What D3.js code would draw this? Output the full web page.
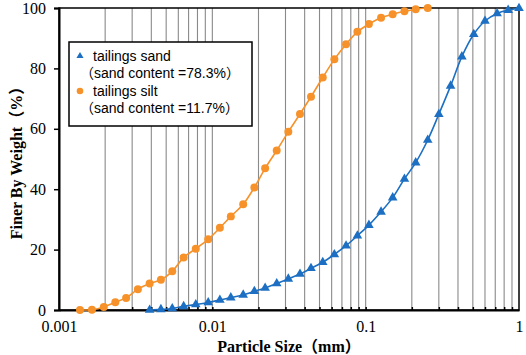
<!DOCTYPE html>
<html>
<head>
<meta charset="utf-8">
<script src="https://cdn.jsdelivr.net/npm/d3@7"></script>
<style>
  body { margin: 0; background: #fff; }
  .tick text { font-family: "Times New Roman", "Liberation Serif", serif; font-size: 16px; fill: #000; }
  .title { font-family: "Times New Roman", "Liberation Serif", "Noto Sans CJK SC", serif; font-weight: bold; font-size: 16px; }
  .legend text { font-family: Arial, "Liberation Sans", "Noto Sans CJK SC", sans-serif; font-size: 14px; }
</style>
</head>
<body>
<div id="container"></div>
<script>
/* CONSTANTS AND GLOBALS */
const width = 526;
const height = 355;
const margin = { top: 8, right: 7, bottom: 45, left: 59 };

/* DATA */
// tailings silt (orange circles)
const siltSize = [0.00137, 0.00164, 0.00196, 0.00233, 0.00274, 0.00327, 0.0039, 0.00462, 0.00548, 0.0065,
  0.0078, 0.0094, 0.0112, 0.0132, 0.0159, 0.0188, 0.0221, 0.0263, 0.0313, 0.0373,
  0.044, 0.0525, 0.0625, 0.0745, 0.0883, 0.105, 0.126, 0.15, 0.179, 0.212, 0.254];
const siltFiner = [0, 0.1, 1, 2.6, 4.0, 6.9, 8.8, 10.0, 12.8, 17.4,
  20.3, 23.4, 27.2, 31.0, 35.0, 40.6, 46.9, 52.8, 59.0, 64.9,
  70.6, 77.0, 83.0, 88.0, 92.1, 94.7, 96.8, 97.9, 98.9, 99.6, 100];

// tailings sand (blue triangles)
const sandSize = [0.0039, 0.00462, 0.00548, 0.0065, 0.0078, 0.0094, 0.0112, 0.0132, 0.0159, 0.0188,
  0.0221, 0.0263, 0.0313, 0.0373, 0.044, 0.0525, 0.0625, 0.0745, 0.0883, 0.105,
  0.126, 0.15, 0.179, 0.212, 0.254, 0.30, 0.358, 0.424, 0.507, 0.60, 0.72, 0.85, 1.0];
const sandFiner = [0, 0.2, 0.5, 1.2, 1.8, 2.5, 3.3, 4.1, 5.0, 6.2,
  7.3, 8.8, 10.3, 11.9, 13.8, 15.8, 18.4, 21.3, 24.6, 28.1,
  32.5, 37.2, 43.4, 48.8, 56.3, 64.8, 74.2, 83.9, 91.3, 95.7, 98.2, 99.3, 99.9];

const xTicks = [0.001, 0.01, 0.1, 1];
const xTickLabels = ["0.001", "0.01", "0.1", "1"];
const yTicks = [0, 20, 40, 60, 80, 100];

const legendLabels = ["tailings sand", "（sand content =78.3%）", "tailings silt", "（sand content =11.7%）"];

const blue = "#1c6fc2";
const orange = "#f7922a";

/* HTML ELEMENTS */
const svg = d3.select("#container")
  .append("svg")
  .attr("width", width)
  .attr("height", height)

/* SCALES */
const xScale = d3.scaleLog()
  .domain([0.001, 1])
  .range([margin.left, width - margin.right])

const yScale = d3.scaleLinear()
  .domain([0, 100])
  .range([height - margin.bottom, margin.top])

// vertical grid lines (2..9 of each decade plus 0.01, 0.1)
const gridVals = xScale.ticks().filter(d => d > 0.001 && d < 1)
svg.append("g")
  .selectAll("line")
  .data(gridVals)
  .join("line")
  .attr("x1", d => xScale(d))
  .attr("x2", d => xScale(d))
  .attr("y1", yScale(0))
  .attr("y2", yScale(100))
  .attr("stroke", "#8a8a8a")
  .attr("stroke-width", 1.1)

// plot frame
svg.append("rect")
  .attr("x", xScale(0.001))
  .attr("y", yScale(100))
  .attr("width", xScale(1) - xScale(0.001))
  .attr("height", yScale(0) - yScale(100))
  .attr("fill", "none")
  .attr("stroke", "#000")
  .attr("stroke-width", 1.5)

/* AXES */
// minor ticks on x axis (inside)
const xMinor = d3.axisBottom(xScale)
  .tickValues(gridVals)
  .tickSize(-3)
  .tickFormat("")
svg.append("g")
  .attr("transform", `translate(0,${yScale(0)})`)
  .call(xMinor)
  .call(g => g.select(".domain").remove())
  .call(g => g.selectAll(".tick line").attr("stroke-width", 1.5))

const xAxis = d3.axisBottom(xScale)
  .tickValues(xTicks)
  .tickSize(0)
  .tickPadding(11)
  .tickFormat((d, i) => xTickLabels[i])
svg.append("g")
  .attr("class", "axis")
  .attr("transform", `translate(0,${yScale(0)})`)
  .call(xAxis)
  .call(g => g.select(".domain").attr("stroke-width", 2))

const yAxis = d3.axisLeft(yScale)
  .tickValues(yTicks)
  .tickSize(5)
  .tickPadding(8)
svg.append("g")
  .attr("class", "axis")
  .attr("transform", `translate(${xScale(0.001)},0)`)
  .call(yAxis)
  .call(g => g.select(".domain").attr("stroke-width", 2))
  .call(g => g.selectAll(".tick line").attr("stroke-width", 1.5))

// AXIS TITLES
svg.append("text")
  .attr("class", "title")
  .attr("x", (xScale(0.001) + xScale(1)) / 2)
  .attr("y", 352)
  .attr("text-anchor", "middle")
  .text("Particle Size（mm）")

svg.append("text")
  .attr("class", "title")
  .attr("transform", `translate(22,${(yScale(0) + yScale(100)) / 2}) rotate(-90)`)
  .attr("text-anchor", "middle")
  .text("Finer By Weight（%）")

/* LINES AND MARKERS */
const line = d3.line()
  .x(d => xScale(d[0]))
  .y(d => yScale(d[1]))
  .curve(d3.curveCatmullRom)

const sand = sandSize.map((s, i) => [s, sandFiner[i]])
const silt = siltSize.map((s, i) => [s, siltFiner[i]])

svg.append("path")
  .datum(silt)
  .attr("d", line)
  .attr("fill", "none")
  .attr("stroke", orange)
  .attr("stroke-width", 1.6)

svg.append("path")
  .datum(sand)
  .attr("d", line)
  .attr("fill", "none")
  .attr("stroke", blue)
  .attr("stroke-width", 1.6)

const circle = d3.symbol().type(d3.symbolCircle).size(50)
const tri = d3.symbol().type(d3.symbolTriangle).size(40)

svg.append("g")
  .selectAll("path")
  .data(silt)
  .join("path")
  .attr("d", circle)
  .attr("transform", d => `translate(${xScale(d[0])},${yScale(d[1])})`)
  .attr("fill", orange)

svg.append("g")
  .selectAll("path")
  .data(sand)
  .join("path")
  .attr("d", tri)
  .attr("transform", d => `translate(${xScale(d[0])},${yScale(d[1])})`)
  .attr("fill", blue)

/* LEGEND */
const legendY = [61, 78, 96, 113]
const legend = svg.append("g").attr("class", "legend")
legend.append("rect")
  .attr("x", 69)
  .attr("y", 42)
  .attr("width", 183)
  .attr("height", 84)
  .attr("fill", "#fff")
  .attr("stroke", "#000")
  .attr("stroke-width", 1.5)

legend.selectAll("text")
  .data(legendLabels)
  .join("text")
  .attr("x", (d, i) => i % 2 === 0 ? 93 : 80)
  .attr("y", (d, i) => legendY[i])
  .text(d => d)

legend.append("path")
  .attr("d", d3.symbol().type(d3.symbolTriangle).size(22))
  .attr("transform", "translate(80,56)")
  .attr("fill", blue)

legend.append("path")
  .attr("d", d3.symbol().type(d3.symbolCircle).size(34))
  .attr("transform", "translate(80,91)")
  .attr("fill", orange)
</script>
</body>
</html>
